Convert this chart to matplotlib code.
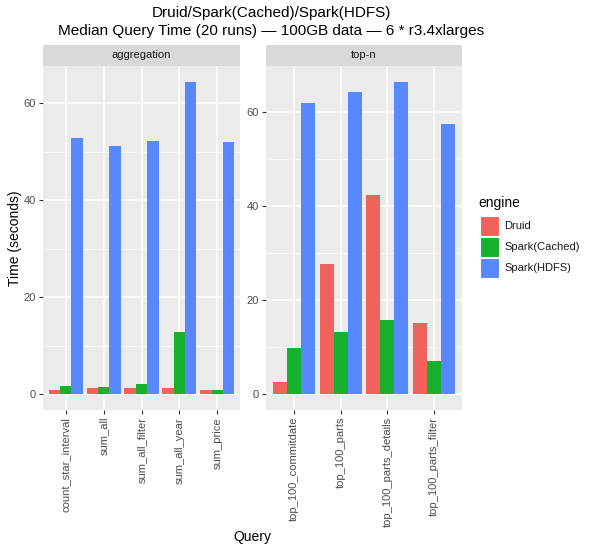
import matplotlib
matplotlib.use("Agg")
import matplotlib.pyplot as plt
import numpy as np
from matplotlib.patches import Rectangle

plt.rcParams["font.family"] = ["Liberation Sans", "DejaVu Sans"]

engines = ["Druid", "Spark(Cached)", "Spark(HDFS)"]
colors = ["#F2625D", "#14B02E", "#5888FF"]

agg_queries = ["count_star_interval", "sum_all", "sum_all_filter", "sum_all_year", "sum_price"]
agg_druid = [1.0, 1.3, 1.3, 1.3, 1.0]
agg_cached = [1.7, 1.6, 2.1, 12.9, 1.0]
agg_hdfs = [52.8, 51.3, 52.3, 64.5, 52.1]

topn_queries = ["top_100_commitdate", "top_100_parts", "top_100_parts_details", "top_100_parts_filter"]
topn_druid = [2.7, 27.7, 42.3, 15.2]
topn_cached = [9.8, 13.3, 15.8, 7.1]
topn_hdfs = [61.8, 64.1, 66.4, 57.4]

W, H = 600, 550
fig = plt.figure(figsize=(6, 5.5), dpi=100)
fig.patch.set_facecolor("white")

def px_axes(x0, y0, x1, y1):
    return fig.add_axes([x0 / W, 1 - y1 / H, (x1 - x0) / W, (y1 - y0) / H])

def panel(x0, x1, queries, series, title):
    ax = px_axes(x0, 66, x1, 410)
    ax.set_facecolor("#EBEBEB")
    n = len(queries)
    xs = np.arange(n)
    bw = 0.9 / 3
    for i, (vals, c) in enumerate(zip(series, colors)):
        ax.bar(xs + (i - 1) * bw, vals, width=bw, color=c, zorder=3, linewidth=0)
    ymax = max(max(s) for s in series)
    ax.set_ylim(-0.05 * ymax, ymax * 1.05)
    ax.set_xlim(-0.6, n - 1 + 0.6)
    ax.set_yticks([0, 20, 40, 60])
    ax.set_yticks([10, 30, 50] + ([70] if ymax * 1.05 > 70 else []), minor=True)
    ax.set_xticks(xs)
    ax.set_xticklabels(queries, rotation=90, ha="center", va="top")
    ax.grid(True, which="major", color="white", linewidth=1.1, zorder=0)
    ax.grid(True, which="minor", axis="y", color="white", linewidth=0.5, zorder=0)
    ax.set_axisbelow(True)
    for s in ax.spines.values():
        s.set_visible(False)
    ax.tick_params(axis="both", which="major", length=3, width=0.8, color="#333333",
                   labelsize=8, labelcolor="#4D4D4D", pad=2)
    ax.tick_params(axis="both", which="minor", length=0)
    sax = px_axes(x0, 45, x1, 66)
    sax.set_facecolor("#D9D9D9")
    sax.set_xticks([]); sax.set_yticks([])
    for s in sax.spines.values():
        s.set_visible(False)
    sax.text(0.5, 0.5, title, ha="center", va="center", fontsize=8, color="#1A1A1A",
             transform=sax.transAxes)
    return ax

ax1 = panel(43, 240, agg_queries, [agg_druid, agg_cached, agg_hdfs], "aggregation")
ax2 = panel(266, 462, topn_queries, [topn_druid, topn_cached, topn_hdfs], "top-n")

fig.text(271 / W, 1 - 13 / H, "Druid/Spark(Cached)/Spark(HDFS)", ha="center", va="center", fontsize=11)
fig.text(271 / W, 1 - 31 / H, "Median Query Time (20 runs) \u2014 100GB data \u2014 6 * r3.4xlarges",
         ha="center", va="center", fontsize=11)
fig.text(15 / W, 1 - 238 / H, "Time (seconds)", rotation=90, ha="center", va="center", fontsize=10)
fig.text(252 / W, 1 - 537 / H, "Query", ha="center", va="center", fontsize=10)

fig.text(478 / W, 1 - 203 / H, "engine", ha="left", va="center", fontsize=10)
for i, (e, c) in enumerate(zip(engines, colors)):
    ytop = 216 + i * 21
    fig.patches.append(Rectangle((480 / W, 1 - (ytop + 20) / H), 19 / W, 20 / H,
                                 transform=fig.transFigure, facecolor=c, edgecolor="white", linewidth=0.8))
    fig.text(504 / W, 1 - (ytop + 10) / H, e, ha="left", va="center", fontsize=8, color="#1A1A1A")

fig.savefig("out.png", dpi=100)
